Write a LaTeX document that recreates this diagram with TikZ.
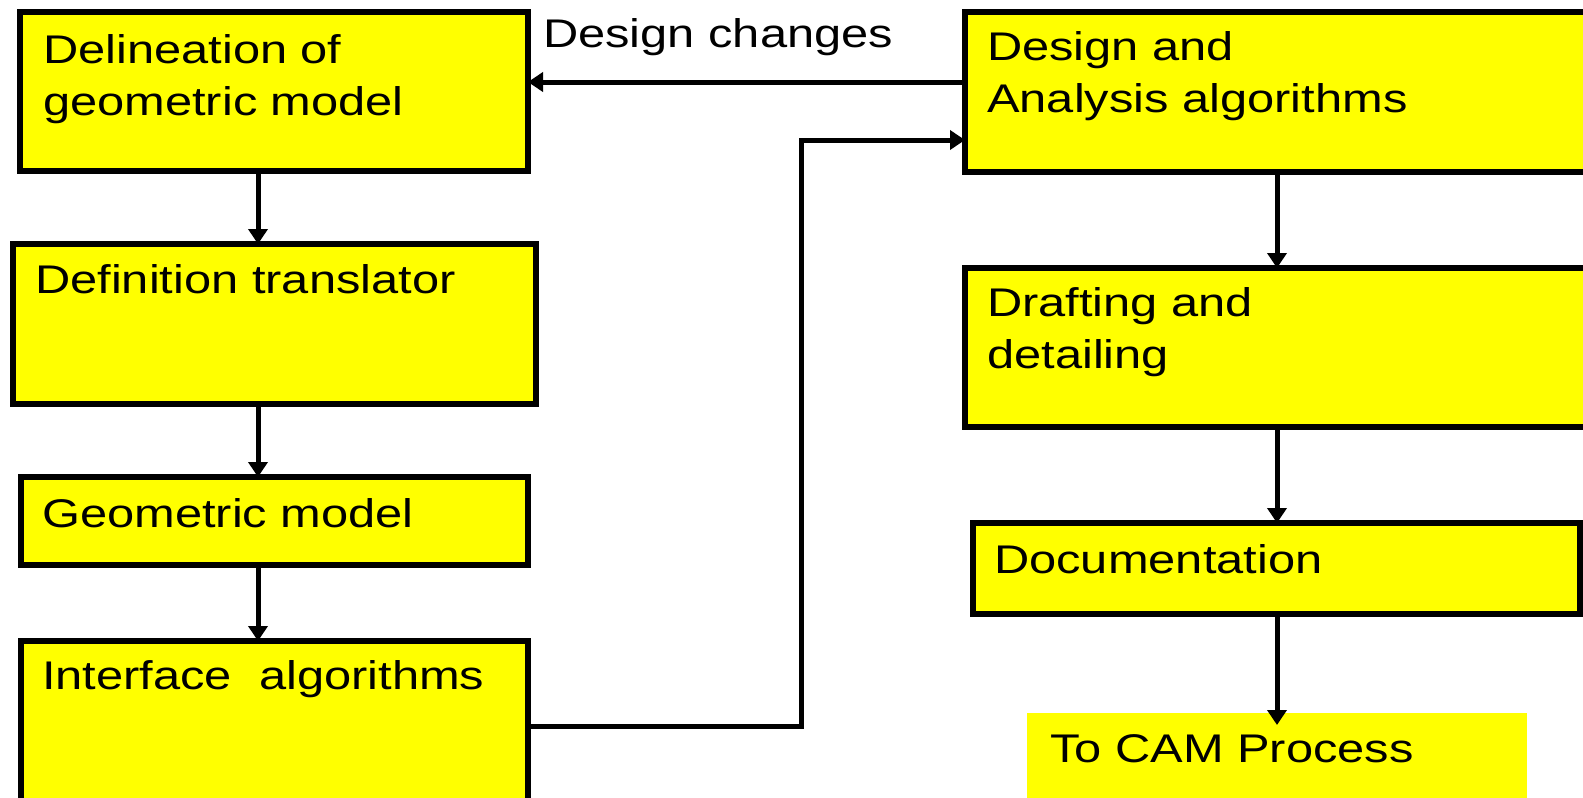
\documentclass[tikz,border=0pt]{standalone}
\usepackage{fontspec}
\setmainfont{Liberation Sans}[FakeStretch=1.22]
\usetikzlibrary{arrows.meta}
\definecolor{boxyellow}{RGB}{255,255,0}
\begin{document}
\begin{tikzpicture}[x=1pt,y=-1pt,
  box/.style={draw=black, line width=5.5pt, fill=boxyellow, inner sep=0pt,
    outer sep=0pt, anchor=north west},
  plainbox/.style={fill=boxyellow, inner sep=0pt, outer sep=0pt, anchor=north west},
  txt/.style={anchor=base west, inner sep=0pt, align=left,
    font=\fontsize{40}{52}\selectfont},
  arr/.style={line width=5pt, -{Triangle[length=15pt,width=19pt]}}]
\useasboundingbox (0,0) rectangle (1583,798);
\clip (0,0) rectangle (1583,798);

% left column
\node[box, minimum width=508, minimum height=159] (b1) at (20,12) {};
\node[box, minimum width=523, minimum height=160] (b2) at (13,244) {};
\node[box, minimum width=507, minimum height=88]  (b3) at (21,477) {};
\node[box, minimum width=507, minimum height=200] (b4) at (21,641) {};

% right column
\node[box, minimum width=700, minimum height=160] (b5) at (965,12) {};
\node[box, minimum width=700, minimum height=159] (b6) at (965,268) {};
\node[box, minimum width=607, minimum height=91]  (b7) at (973,523) {};
\node[plainbox, minimum width=500, minimum height=100] (b8) at (1027,713) {};

% labels (base anchor sits on the last line of a two-line label)
\node[txt] (t1) at (43,115)  {Delineation of\\geometric model};
\node[txt] (t2) at (35,293)  {Definition translator};
\node[txt] (t3) at (42,527)  {Geometric model};
\node[txt] (t4) at (42,689)  {Interface\ \ algorithms};
\node[txt] (t5) at (987,112) {Design and\\Analysis algorithms};
\node[txt] (t6) at (987,368) {Drafting and\\detailing};
\node[txt] (t7) at (994,573) {Documentation};
\node[txt] (t8) at (1050,762){To CAM Process};
\node[txt] (dc) at (543,47)  {Design changes};

% connector guides
\coordinate (lx) at (258,0);
\coordinate (rx) at (1277,0);
\coordinate (dy) at (0,82);
\coordinate (c1) at (801,726);
\coordinate (c2) at (801,140);

% connectors
\draw[arr] (b1.south -| lx) -- (b2.north -| lx);
\draw[arr] (b2.south -| lx) -- (b3.north -| lx);
\draw[arr] (b3.south -| lx) -- (b4.north -| lx);
\draw[arr] (b5.west |- dy) -- (b1.east |- dy);
\draw[arr] (b4.east |- c1) -- (c1) -- (c2) -- (b5.west |- c2);
\draw[arr] (b5.south -| rx) -- (b6.north -| rx);
\draw[arr] (b6.south -| rx) -- (b7.north -| rx);
\draw[arr] (b7.south -| rx) -- (b8.north -| rx) -- ++(0,12);
\end{tikzpicture}
\end{document}
